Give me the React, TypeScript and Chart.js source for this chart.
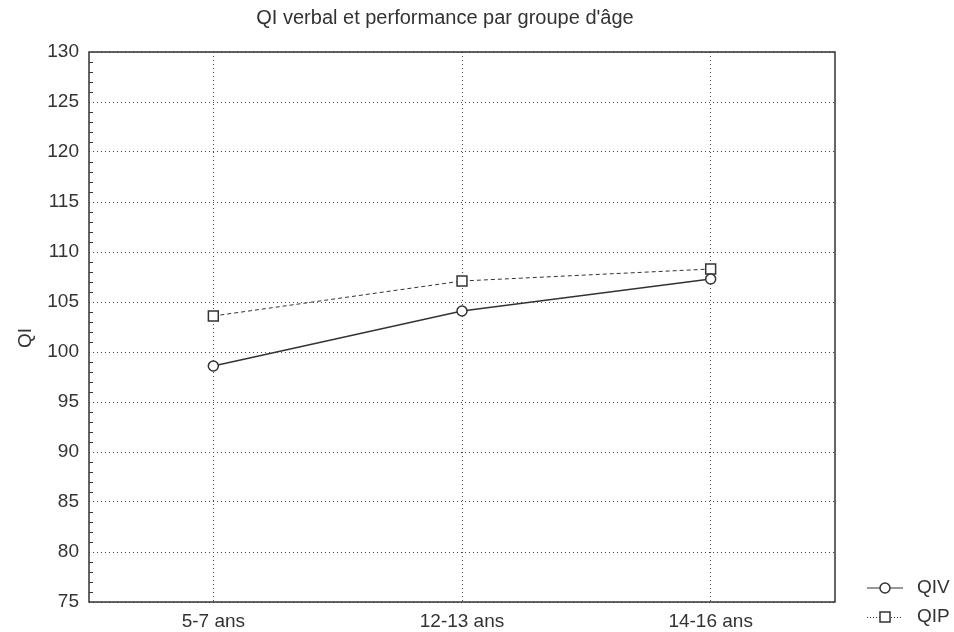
import React, { useEffect, useRef } from "react";
import { Chart, registerables } from "chart.js";

Chart.register(...registerables);

const titleText = "QI verbal et performance par groupe d'âge";
const yAxisTitle = "QI";
const categories = ["5-7 ans", "12-13 ans", "14-16 ans"];
const qivValues = [98.6, 104.1, 107.3];
const qipValues = [103.6, 107.1, 108.3];
const yMin = 75;
const yMax = 130;
const yStep = 5;
const seriesNames = ["QIV", "QIP"];

const FONT = "'Liberation Sans', Arial, sans-serif";
const INK = "#333333";

const decorPlugin = {
  id: "decor",
  afterDraw(chart: any) {
    const { ctx, chartArea, scales } = chart;
    const { left, right, top, bottom } = chartArea;
    ctx.save();
    // frame
    ctx.strokeStyle = INK;
    ctx.lineWidth = 1.5;
    ctx.setLineDash([]);
    ctx.strokeRect(left, top, right - left, bottom - top);
    // minor ticks on left axis
    ctx.lineWidth = 1;
    for (let v = yMin + 1; v < yMax; v++) {
      if (v % yStep === 0) continue;
      const y = Math.round(scales.y.getPixelForValue(v)) + 0.5;
      ctx.beginPath();
      ctx.moveTo(left, y);
      ctx.lineTo(left + 4, y);
      ctx.stroke();
    }
    // title
    ctx.fillStyle = INK;
    ctx.font = `20px ${FONT}`;
    ctx.textAlign = "center";
    ctx.textBaseline = "middle";
    ctx.fillText(titleText, 445, 18);
    // y title
    ctx.save();
    ctx.translate(26, 338);
    ctx.rotate(-Math.PI / 2);
    ctx.font = `19px ${FONT}`;
    ctx.fillText(yAxisTitle, 0, 0);
    ctx.restore();
    // legend
    const lx1 = 867, lx2 = 903, mx = 885;
    const rows = [588, 617];
    // QIV
    ctx.strokeStyle = INK;
    ctx.lineWidth = 1.2;
    ctx.beginPath();
    ctx.moveTo(lx1, rows[0]);
    ctx.lineTo(lx2, rows[0]);
    ctx.stroke();
    ctx.beginPath();
    ctx.arc(mx, rows[0], 5, 0, Math.PI * 2);
    ctx.fillStyle = "#ffffff";
    ctx.fill();
    ctx.lineWidth = 1.5;
    ctx.stroke();
    // QIP
    ctx.lineWidth = 1;
    ctx.setLineDash([1, 2]);
    ctx.beginPath();
    ctx.moveTo(lx1, rows[1] + 0.5);
    ctx.lineTo(lx2, rows[1] + 0.5);
    ctx.stroke();
    ctx.setLineDash([]);
    ctx.fillStyle = "#ffffff";
    ctx.fillRect(mx - 5, rows[1] - 5, 10, 10);
    ctx.lineWidth = 1.5;
    ctx.strokeRect(mx - 5, rows[1] - 5, 10, 10);
    ctx.fillStyle = INK;
    ctx.font = `19px ${FONT}`;
    ctx.textAlign = "left";
    ctx.textBaseline = "middle";
    ctx.fillText(seriesNames[0], 917, rows[0]);
    ctx.fillText(seriesNames[1], 917, rows[1]);
    ctx.restore();
  },
};

export default function App() {
  const canvasRef = useRef<HTMLCanvasElement | null>(null);

  useEffect(() => {
    if (!canvasRef.current) return;
    const chart = new Chart(canvasRef.current, {
      type: "line",
      data: {
        labels: categories,
        datasets: [
          {
            label: seriesNames[0],
            data: qivValues,
            borderColor: INK,
            borderWidth: 1.3,
            backgroundColor: "#ffffff",
            pointStyle: "circle",
            pointRadius: 5,
            pointBorderWidth: 1.5,
            pointBorderColor: INK,
            pointBackgroundColor: "#ffffff",
            tension: 0,
          },
          {
            label: seriesNames[1],
            data: qipValues,
            borderColor: INK,
            borderWidth: 1,
            borderDash: [4, 3],
            backgroundColor: "#ffffff",
            pointStyle: "rect",
            pointRadius: 7,
            pointBorderWidth: 1.5,
            pointBorderColor: INK,
            pointBackgroundColor: "#ffffff",
            tension: 0,
          },
        ],
      },
      options: {
        animation: false,
        responsive: false,
        maintainAspectRatio: false,
        layout: { padding: { top: 52, right: 119, left: 0, bottom: 0 } },
        plugins: {
          legend: { display: false },
          title: { display: false },
          tooltip: { enabled: false },
        },
        scales: {
          x: {
            type: "category",
            offset: true,
            grid: {
              offset: false,
              color: "#444444",
              lineWidth: 1,
              drawTicks: false,
            },
            border: { display: false, dash: [1, 3] },
            ticks: {
              color: INK,
              font: { family: FONT, size: 19 },
              padding: 8,
              maxRotation: 0,
            },
            afterFit(scale: any) {
              scale.height = 30;
            },
          },
          y: {
            min: yMin,
            max: yMax,
            ticks: {
              stepSize: yStep,
              color: INK,
              font: { family: FONT, size: 19 },
              padding: 10,
            },
            grid: {
              color: "#444444",
              lineWidth: 1,
              drawTicks: false,
            },
            border: { display: false, dash: [1, 3] },
            afterFit(scale: any) {
              scale.width = 89;
            },
          },
        },
      },
      plugins: [decorPlugin],
    } as any);
    return () => chart.destroy();
  }, []);

  return (
    <div style={{ position: "fixed", left: 0, top: 0, width: 954, height: 632, background: "#ffffff" }}>
      <canvas ref={canvasRef} width={954} height={632} style={{ width: 954, height: 632 }} />
    </div>
  );
}
